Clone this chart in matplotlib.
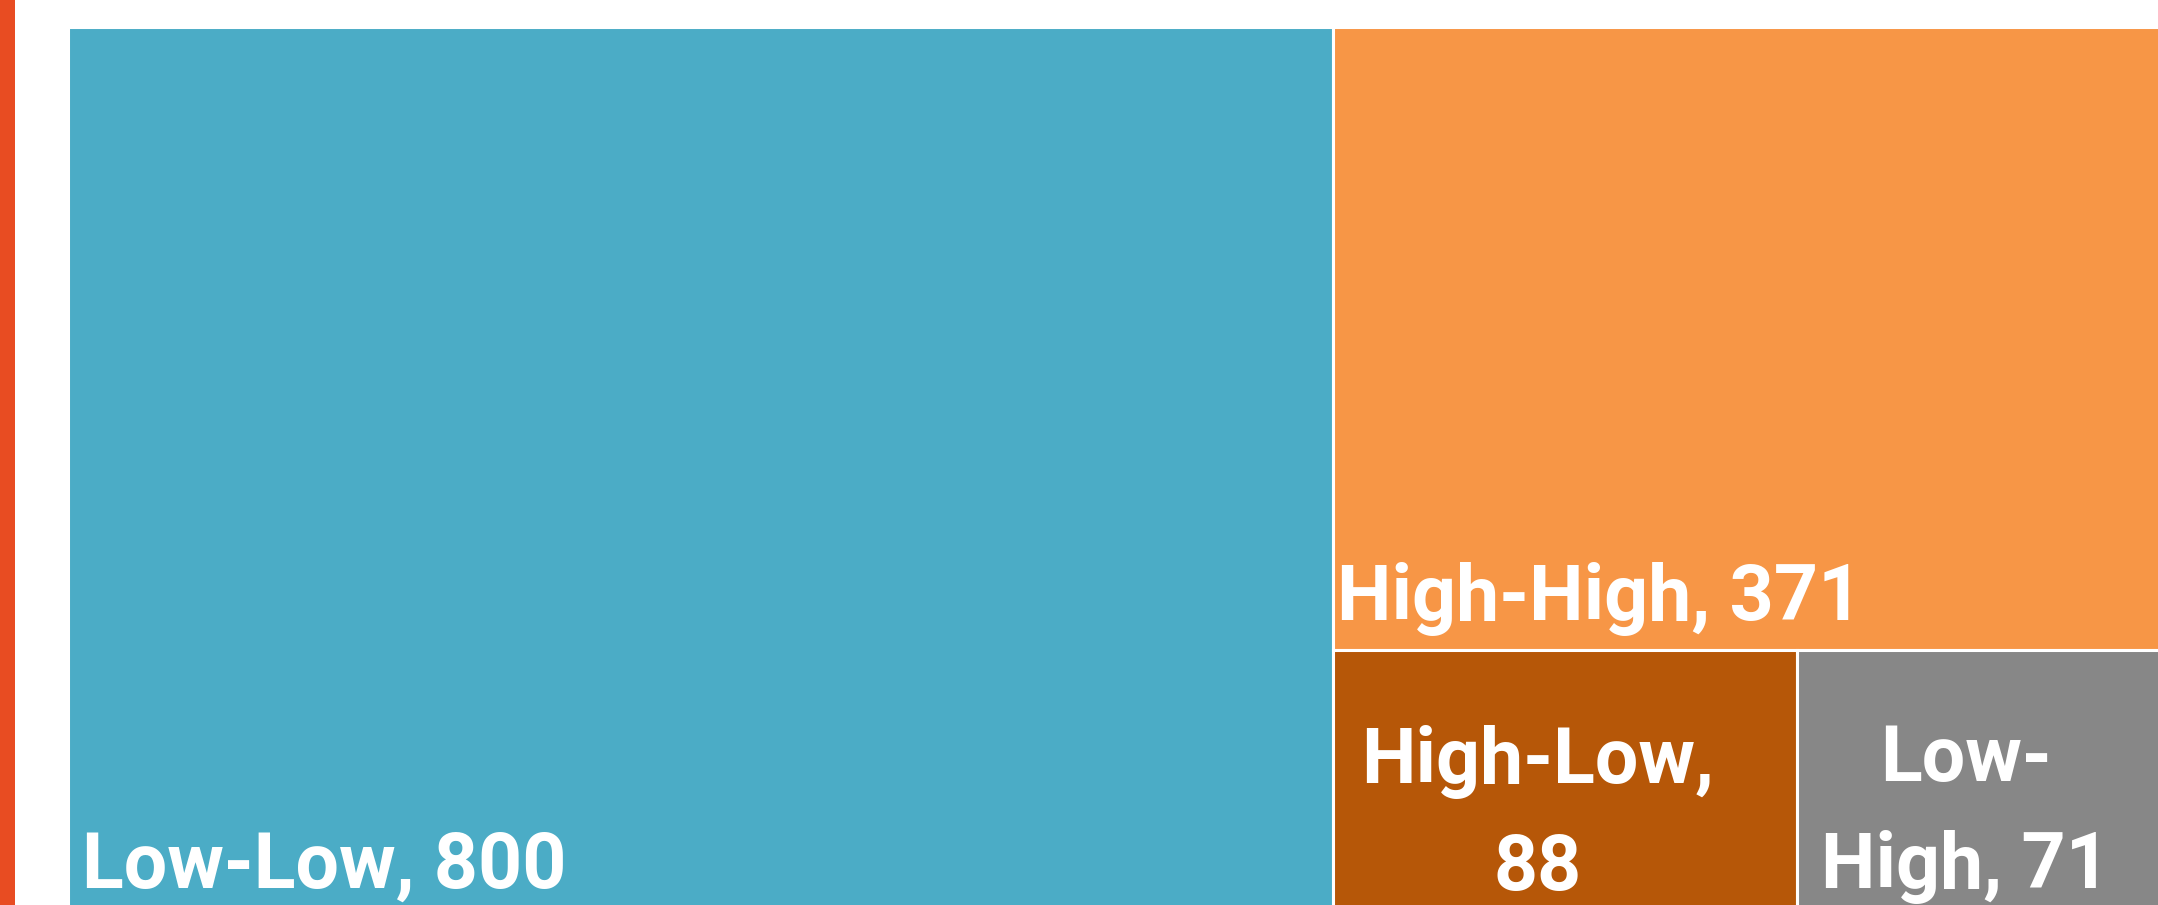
import matplotlib
matplotlib.use("Agg")
import matplotlib.pyplot as plt
from matplotlib.patches import Rectangle

# === Data ===
categories = ["Low-Low", "High-High", "High-Low", "Low-High"]
counts = [800, 371, 88, 71]
colors = ["#4BACC6", "#F79646", "#B65708", "#878787"]

W, H = 2158, 905
fig = plt.figure(figsize=(W / 100, H / 100), dpi=100)
fig.patch.set_facecolor("white")

# red accent bar on the left edge
fig.add_artist(Rectangle((0, 0), 15 / W, 1, transform=fig.transFigure,
                         facecolor="#E84C22", edgecolor="none"))

# treemap area (runs slightly past the right and bottom edges)
ax = fig.add_axes([68 / W, -12 / H, 2103 / W, 890 / H])
ax.set_xlim(0, 1)
ax.set_ylim(0, 1)
ax.axis("off")

# === Layout: big block left, rest stacked on the right ===
total = sum(counts)
right_total = sum(counts[1:])
x_split = counts[0] / total
y_split = sum(counts[2:]) / right_total
x_split2 = x_split + (1 - x_split) * counts[2] / sum(counts[2:])

rects = {
    "Low-Low": (0, 0, x_split, 1),
    "High-High": (x_split, y_split, 1 - x_split, 1 - y_split),
    "High-Low": (x_split, 0, x_split2 - x_split, y_split),
    "Low-High": (x_split2, 0, 1 - x_split2, y_split),
}

for cat, n, col in zip(categories, counts, colors):
    x0, y0, w, h = rects[cat]
    ax.add_patch(Rectangle((x0, y0), w, h, facecolor=col,
                           edgecolor="white", linewidth=2.2, clip_on=False))

font = dict(family=["Roboto", "DejaVu Sans"], weight="bold",
            color="white", fontsize=55.5)

def label(cat, lines, dx, dy, ha):
    x0, y0, w, h = rects[cat]
    ax_x = x0 if ha == "left" else x0 + w / 2
    for i, line in enumerate(reversed(lines)):
        ax.annotate(line, xy=(ax_x, y0), xytext=(dx, dy + i * 107),
                    textcoords="offset pixels", ha=ha, va="baseline", **font)

label("Low-Low", [f"Low-Low, {counts[0]}"], 14, 29, "left")
label("High-High", [f"High-High, {counts[1]}"], 4, 30, "left")
label("High-Low", ["High-Low,", f"{counts[2]}"], -27, 27, "center")
label("Low-High", ["Low-", f"High, {counts[3]}"], -18, 29, "center")

fig.savefig("out.png", dpi=100)
